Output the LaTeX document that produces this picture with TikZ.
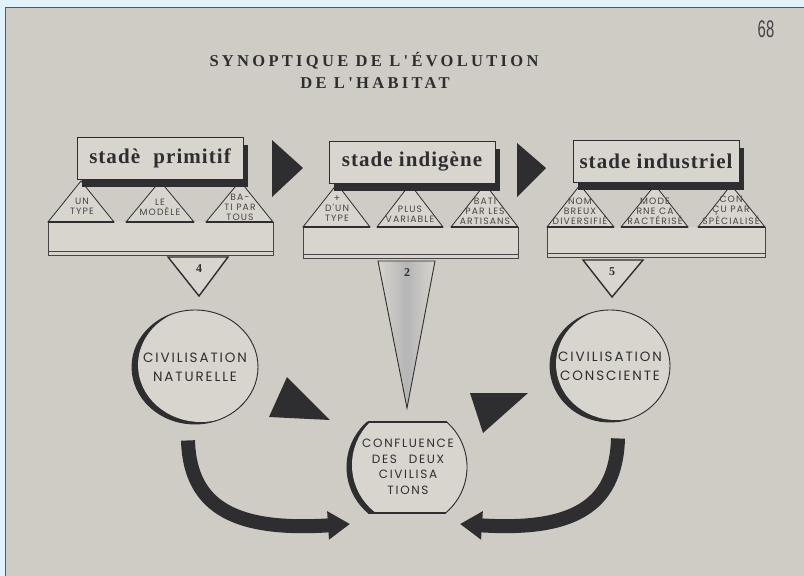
\documentclass[tikz,border=0pt]{standalone}
\usepackage{fontspec}
\usepackage{graphicx}
\usetikzlibrary{arrows.meta, positioning, calc, shapes.geometric, shadows}
\setmainfont{Liberation Serif}
\newfontfamily\titlefont[LetterSpace=20]{Liberation Serif}
\newfontfamily\stagefont[LetterSpace=5]{Liberation Serif}
\newfontfamily\letterfont[LetterSpace=14]{Poppins}
\newfontfamily\smallletterfont[LetterSpace=12]{Poppins}
\newfontfamily\numfont{Liberation Sans}
\definecolor{paper}{RGB}{207,203,197}
\definecolor{paperlight}{RGB}{216,212,206}
\definecolor{ink}{RGB}{46,45,48}
\definecolor{pencil}{RGB}{70,68,70}
\definecolor{frameblue}{RGB}{226,242,250}

\begin{document}
\begin{tikzpicture}[x=1pt, y=-1pt,
  stagebox/.style={draw=ink, line width=0.9pt, fill=paperlight, minimum width=166pt, minimum height=42pt, inner sep=0pt, text=ink,
    font=\stagefont\bfseries\fontsize{21}{24}\selectfont,
    drop shadow={shadow xshift=5pt, shadow yshift=-8pt, fill=ink, opacity=1}},
  traittri/.style={draw=ink, line width=0.8pt, fill=paperlight},
  traitbase/.style={draw=ink, line width=1.6pt},
  trait/.style={inner sep=0pt, align=center, text=pencil, font=\smallletterfont\fontsize{9.2}{10.2}\selectfont},
  platform/.style={draw=pencil, line width=0.6pt},
  numtri/.style={draw=ink, line width=1.4pt, fill=paperlight},
  numlabel/.style={inner sep=0pt, text=ink, font=\bfseries\fontsize{12}{12}\selectfont},
  pointer/.style={fill=ink},
  civdisc/.style 2 args={ellipse, draw=ink, line width=0.9pt, fill=ink, inner ysep=0pt, inner xsep=-12pt,
    minimum width=2*#1, minimum height=2*#2, align=center, text=ink,
    font=\letterfont\fontsize{13.5}{19}\selectfont,
    path picture={\fill[paperlight] ([shift={(6pt,2pt)}]path picture bounding box.center) ellipse [x radius=#1, y radius=#2];}},
  bandarrow/.style={draw=ink, line width=14pt, -{Triangle[length=22pt, width=27pt]}}
]
  \useasboundingbox (0,0) rectangle (804,576);
  \fill[frameblue] (0,0) rectangle (804,576);
  \filldraw[fill=paper, draw=ink!80, line width=1pt] (5,7) rectangle (812,584);

  % title and page number
  \node[font=\titlefont\bfseries\fontsize{16.5}{17}\selectfont, text=ink] (title1) at (374,61) {SYNOPTIQUE DE L'ÉVOLUTION};
  \node[font=\titlefont\bfseries\fontsize{16.5}{17}\selectfont, text=ink] (title2) at (375,83) {DE L'HABITAT};
  \node[text=pencil] (page) at (766,29) {\scalebox{0.62}[1]{\numfont\fontsize{24}{24}\selectfont 68}};

  % platforms under the stages
  \fill[paperlight] (48,222) rectangle (273,255);
  \draw[platform] (48,222) -- (48,255) (273,222) -- (273,255);
  \draw[platform] (48,251) rectangle (273,255);
  \fill[paperlight] (303,227) rectangle (518,258);
  \draw[platform] (303,227) -- (303,258) (518,227) -- (518,258);
  \draw[platform] (303,254) rectangle (518,258);
  \fill[paperlight] (547,227) rectangle (765,257);
  \draw[platform] (547,227) -- (547,257) (765,227) -- (765,257);
  \draw[platform] (547,253) rectangle (765,257);

  % traits of each stage
  \filldraw[traittri] (48,222) -- (81,181) -- (114,222) -- cycle;
  \filldraw[traittri] (126,222) -- (160,181) -- (194,222) -- cycle;
  \filldraw[traittri] (206,222) -- (240,181) -- (273,222) -- cycle;
  \filldraw[traittri] (303,227) -- (337,184) -- (370,227) -- cycle;
  \filldraw[traittri] (377,227) -- (410,184) -- (443,227) -- cycle;
  \filldraw[traittri] (451,227) -- (485,184) -- (518,227) -- cycle;
  \filldraw[traittri] (547,227) -- (580,185) -- (614,227) -- cycle;
  \filldraw[traittri] (621,227) -- (655,185) -- (688,227) -- cycle;
  \filldraw[traittri] (698,227) -- (731,185) -- (765,227) -- cycle;
  \draw[traitbase] (48,222) -- (114,222) (126,222) -- (194,222) (206,222) -- (273,222);
  \draw[traitbase] (303,227) -- (370,227) (377,227) -- (443,227) (451,227) -- (518,227);
  \draw[traitbase] (547,227) -- (614,227) (621,227) -- (688,227) (698,227) -- (765,227);

  \node[trait, anchor=south] (untype) at (82,215) {UN\\TYPE};
  \node[trait, anchor=south] (modele) at (160,216) {LE\\MODÈLE};
  \node[trait, anchor=south] (partous) at (240,221) {BA-\\TI PAR\\TOUS};
  \node[trait, anchor=south] (duntype) at (337,222) {+\\D'UN\\TYPE};
  \node[trait, anchor=south] (variable) at (410,223) {PLUS\\VARIABLE};
  \node[trait, anchor=south] (artisans) at (485,225) {BATI\\PAR LES\\ARTISANS};
  \node[trait, anchor=south] (diversifie) at (580,225) {NOM\\BREUX\\DIVERSIFIÉ};
  \node[trait, anchor=south] (caracterise) at (655,225) {MODE\\RNE CA\\RACTÉRISÉ};
  \node[trait, anchor=south] (specialise) at (731,225) {CON\\ÇU PAR\\SPÉCIALISÉ};

  % the three stages
  \node[stagebox] (prim) at (160,158) {stadè\hspace{7pt} primitif};
  \node[stagebox] (indi) at (412,162) {stade indigène};
  \node[stagebox] (indu) at (656,161) {stade industriel};
  \fill[pointer] (272,140) -- (303,168) -- (272,197) -- cycle;
  \fill[pointer] (517,143) -- (546,168) -- (517,197) -- cycle;

  % numbered wedges
  \filldraw[numtri] (168,257) -- (228,257) -- (199,296) -- cycle;
  \filldraw[numtri] (583,260) -- (643,260) -- (612,297) -- cycle;
  \shade[left color=paperlight, right color=paperlight, middle color=ink!35] (378,261) -- (435,261) -- (407,408) -- cycle;
  \draw[ink, line width=0.9pt] (378,261) -- (435,261) -- (407,408) -- cycle;
  \node[numlabel] (four) at (199,269) {4};
  \node[numlabel] (two) at (407,273) {2};
  \node[numlabel] (five) at (612,272) {5};

  % the two civilisations
  \node[civdisc={63}{57}] (nat) at (195,367) {CIVILISATION\\NATURELLE};
  \node[civdisc={60}{56}] (cons) at (610,366) {CIVILISATION\\CONSCIENTE};
  \fill[pointer] (287,377) -- (330,420) -- (269,417) -- cycle;
  \fill[pointer] (470,393) -- (528,393) -- (483,433) -- cycle;

  % confluence
  \begin{scope}
    \clip (446.7,422) arc[start angle=-48.6, end angle=50, radius=60] -- (368.4,513) arc[start angle=130, end angle=228.6, radius=60] -- cycle;
    \fill[ink] (340,415) rectangle (470,520);
    \fill[paperlight] (412,465) circle[radius=60];
  \end{scope}
  \draw[ink, line width=0.9pt] (446.7,422) arc[start angle=-48.6, end angle=50, radius=60] -- (368.4,513) arc[start angle=130, end angle=228.6, radius=60] -- cycle;
  \draw[ink, line width=2pt] (368.4,422) -- (446.7,422) (445.6,513) -- (368.4,513);
  \node[circle, minimum size=120pt, inner sep=0pt, align=center, text=ink, font=\letterfont\fontsize{12}{15.5}\selectfont] (conf) at (408,467) {CONFLUENCE\\DES\quad DEUX\\CIVILISA\\TIONS};

  \draw[bandarrow] ([xshift=-7pt, yshift=-16pt]nat.south) .. controls +(2,70) and +(-110,7) .. ([xshift=-58pt, yshift=-57pt]conf.center);
  \draw[bandarrow] ([xshift=8pt, yshift=-16pt]cons.south) .. controls +(-2,70) and +(110,7) .. ([xshift=52pt, yshift=-57pt]conf.center);
\end{tikzpicture}
\end{document}
